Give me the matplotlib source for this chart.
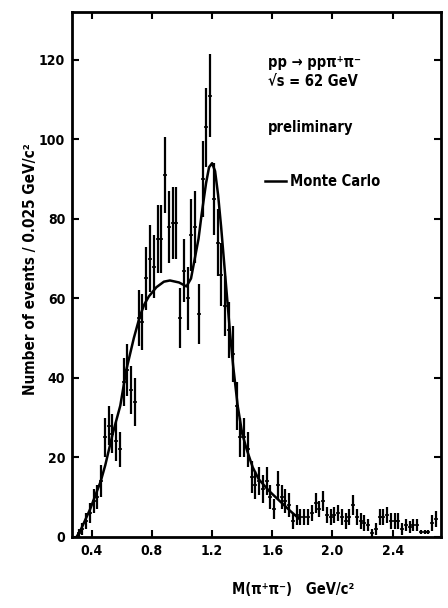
import matplotlib.pyplot as plt

plt.rcParams['font.family'] = ['DejaVu Sans']
plt.rcParams['font.stretch'] = 'condensed'
plt.rcParams['font.weight'] = 'bold'

# histogram, bins of 0.025 GeV/c^2 starting at 0.3
bin_lo = 0.3
bin_w = 0.025
counts = [1, 2, 4, 6, 9, 10, 14, 25, 28, 26,
          24, 22, 39, 42, 37, 34, 55, 54, 65, 70,
          68, 75, 75, 91, 78, 79, 79, 55, 67, 60,
          76, 78, 56, 90, 103, 111, 85, 74, 66, 58,
          52, 46, 33, 25, 25, 22, 15, 13, 14, 12,
          14, 10, 7, 13, 10, 9, 8, 4, 5.5, 5,
          5, 5, 6, 8.5, 7, 9, 5.5, 5, 5.5, 6,
          5, 4, 5, 8, 5, 4, 3.5, 3, 1, 2,
          5, 5, 5.5, 4, 4, 4, 2, 3, 2.5, 3,
          3, 1.3, 1.3, 1.3, 3.5, 4.5]
errors = [1, 1.5, 2, 2.5, 3, 3, 4, 5, 5, 5,
          5, 4.5, 6, 6.5, 6, 6, 7, 7, 8, 8.5,
          8, 8.5, 8.5, 9.5, 9, 9, 9, 7.5, 8, 8,
          9, 9, 7.5, 9.5, 10, 10.5, 9, 8.5, 8, 7.5,
          7, 7, 6, 5, 5, 4.5, 4, 3.5, 3.5, 3.5,
          3.5, 3, 2.5, 3.5, 3, 3, 3, 2, 2.5, 2,
          2, 2, 2, 2.5, 2, 2.5, 2, 2, 2, 2,
          2, 2, 2, 2.5, 2, 2, 2, 1.5, 1, 1.5,
          2, 2, 2, 2, 2, 2, 1.5, 1.5, 1.5, 1.5,
          1.5, 0.5, 0.5, 0.5, 2, 2]

# Monte Carlo curve
mc_m = [0.30, 0.33, 0.36, 0.39, 0.43, 0.46, 0.49, 0.54, 0.59, 0.63, 0.68, 0.72,
        0.75, 0.78, 0.83, 0.88, 0.92, 0.98, 1.03, 1.06, 1.08, 1.11, 1.13, 1.16,
        1.18, 1.20, 1.22, 1.24, 1.26, 1.28, 1.30, 1.32, 1.34, 1.37, 1.40, 1.43,
        1.47, 1.51, 1.58, 1.65, 1.72, 1.78]
mc_n = [0, 2, 4.5, 7, 11, 14, 18, 26, 33, 42, 50, 55.5,
        58.5, 60.5, 62.8, 64.2, 64.5, 64, 63, 65, 69, 75, 81, 89,
        93, 94, 92, 86, 78, 69, 60, 51, 43, 33, 26, 22,
        17.5, 14.5, 11.5, 9, 6.5, 4.5]

centers = [bin_lo + bin_w * (i + 0.5) for i in range(len(counts))]

fig = plt.figure(figsize=(4.48, 6.08), dpi=100)
ax = fig.add_axes([0.161, 0.117, 0.823, 0.863])

ax.errorbar(centers, counts, yerr=errors, fmt='_', color='black',
            ms=2.5, mew=1.2, ecolor='black', elinewidth=1.6, capsize=0)
ax.plot(mc_m, mc_n, color='black', lw=1.8)

ax.set_xlim(0.27, 2.72)
ax.set_ylim(0, 132)
ax.set_xticks([0.4, 0.8, 1.2, 1.6, 2.0, 2.4])
ax.set_xticklabels(['0.4', '0.8', '1.2', '1.6', '2.0', '2.4'])
ax.set_yticks([0, 20, 40, 60, 80, 100, 120])
ax.tick_params(direction='in', top=True, right=True, length=5, width=1.5,
               labelsize=10, pad=5)
for s in ax.spines.values():
    s.set_linewidth(2)

t = ax.transAxes
ax.text(0.531, 0.905, 'pp \u2192 pp\u03c0\u207a\u03c0\u207b', transform=t,
        fontsize=10.5, va='center')
ax.text(0.531, 0.868, '\u221as = 62 GeV', transform=t, fontsize=10.5, va='center')
ax.text(0.531, 0.781, 'preliminary', transform=t, fontsize=10.5, va='center')
ax.plot([0.523, 0.58], [0.678, 0.678], color='black', lw=1.8, transform=t)
ax.text(0.59, 0.678, 'Monte Carlo', transform=t, fontsize=10.5, va='center')

fig.text(0.067, 0.558, 'Number of events / 0.025 GeV/c\u00b2', rotation=90,
         ha='center', va='center', fontsize=11)
fig.text(0.655, 0.03, 'M(\u03c0\u207a\u03c0\u207b)   GeV/c\u00b2', ha='center',
         va='center', fontsize=10.5)

fig.savefig('out.png', dpi=100)
